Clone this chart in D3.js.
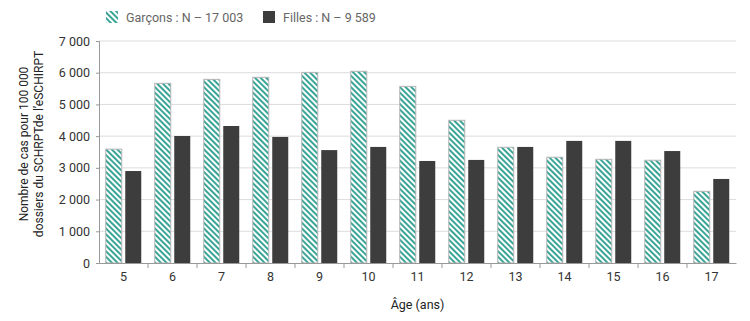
<!DOCTYPE html>
<html>
<head>
<meta charset="utf-8">
<script src="https://cdn.jsdelivr.net/npm/d3@7"></script>
<style>
html, body { margin: 0; padding: 0; background: #fff; overflow: hidden; }
svg { display: block; }
text { font-family: Roboto, "Noto Sans", sans-serif; }
</style>
</head>
<body>
<div id="chart"></div>
<script>
// data
var ages = ["5", "6", "7", "8", "9", "10", "11", "12", "13", "14", "15", "16", "17"];
var garcons = [3590, 5665, 5790, 5855, 6010, 6045, 5570, 4500, 3650, 3335, 3270, 3240, 2260];
var filles  = [2900, 4005, 4320, 3975, 3560, 3660, 3217, 3250, 3660, 3850, 3850, 3530, 2650];
var seriesNames = ["Garçons : N – 17 003", "Filles : N – 9 589"];
var yTicks = [0, 1000, 2000, 3000, 4000, 5000, 6000, 7000];

var width = 750, height = 321;
var margin = { left: 99, top: 41, right: 14, bottom: 58 };
var innerWidth = width - margin.left - margin.right;
var innerHeight = height - margin.top - margin.bottom;

var fmt = function (v) { return d3.format(",")(v).replace(/,/g, " "); };

var x = d3.scaleBand().domain(ages).range([0, innerWidth]).paddingInner(0).paddingOuter(0);
var y = d3.scaleLinear().domain([0, 7000]).range([innerHeight, 0]);

var svg = d3.select("#chart").append("svg")
  .attr("width", width)
  .attr("height", height);

// hatch pattern for Garçons (stripes going down to the right)
var defs = svg.append("defs");
var pat = defs.append("pattern")
  .attr("id", "hatch")
  .attr("patternUnits", "userSpaceOnUse")
  .attr("width", 4).attr("height", 4)
  .attr("patternTransform", "rotate(45)");
pat.append("rect").attr("width", 4).attr("height", 4).attr("fill", "#fff");
pat.append("rect").attr("width", 4).attr("height", 2).attr("fill", "#3aa597");

var g = svg.append("g")
  .attr("transform", "translate(" + margin.left + "," + margin.top + ")");

// grid
g.append("g")
  .attr("class", "yGrid")
  .selectAll("line")
  .data(yTicks.slice(1))
  .enter().append("line")
  .attr("x1", 0).attr("x2", innerWidth)
  .attr("y1", d => y(d)).attr("y2", d => y(d))
  .attr("stroke", "#dcdcdc").attr("stroke-width", 1);

// y axis
var yAxis = g.append("g")
  .call(d3.axisLeft(y).tickValues(yTicks).tickSize(3).tickPadding(6).tickFormat(fmt));
yAxis.select(".domain").attr("stroke", "#999");
yAxis.selectAll(".tick line").attr("stroke", "#999");
yAxis.selectAll("text").attr("fill", "#333").style("font-size", "12.5px");

// bars
var barW = 16, gap = 3.5;
var groups = g.selectAll("g.age")
  .data(ages)
  .enter().append("g")
  .attr("class", "age")
  .attr("transform", d => "translate(" + (x(d) + x.bandwidth() / 2) + ",0)");

groups.append("rect")
  .attr("x", -barW - gap / 2)
  .attr("width", barW)
  .attr("y", (d, i) => y(garcons[i]))
  .attr("height", (d, i) => innerHeight - y(garcons[i]))
  .attr("fill", "url(#hatch)")
  .attr("stroke", "#b5b5b5").attr("stroke-width", 1);

groups.append("rect")
  .attr("x", gap / 2)
  .attr("width", barW)
  .attr("y", (d, i) => y(filles[i]))
  .attr("height", (d, i) => innerHeight - y(filles[i]))
  .attr("fill", "#3d3d3d");

// x axis
var xAxis = g.append("g")
  .attr("transform", "translate(0," + innerHeight + ")")
  .call(d3.axisBottom(x).tickSize(0).tickPadding(9));
xAxis.select(".domain").attr("stroke", "#999");
xAxis.selectAll("text").attr("fill", "#333").style("font-size", "12.5px");
// separators between categories
xAxis.selectAll("line.sep")
  .data(ages.slice(1))
  .enter().append("line")
  .attr("class", "sep")
  .attr("x1", d => x(d)).attr("x2", d => x(d))
  .attr("y1", 0).attr("y2", 5)
  .attr("stroke", "#999");

// axis titles
g.append("text")
  .attr("x", innerWidth / 2)
  .attr("y", innerHeight + 46)
  .attr("text-anchor", "middle")
  .attr("fill", "#222")
  .style("font-size", "12.5px")
  .text("Âge (ans)");

var yTitle = svg.append("text")
  .attr("transform", "translate(32," + (margin.top + innerHeight / 2 - 8) + ") rotate(-90)")
  .attr("text-anchor", "middle")
  .attr("fill", "#222")
  .style("font-size", "12px");
yTitle.append("tspan").attr("x", 0).attr("dy", "-0.35em").text("Nombre de cas pour 100 000");
yTitle.append("tspan").attr("x", 0).attr("dy", "1.3em").text("dossiers du SCHRPTde l’eSCHIRPT");

// legend
var legend = svg.append("g").attr("transform", "translate(106,11)");
var legItems = legend.selectAll("g")
  .data(seriesNames)
  .enter().append("g")
  .attr("transform", (d, i) => "translate(" + (i * 157) + ",0)");
legItems.append("rect")
  .attr("width", 12).attr("height", 12)
  .attr("fill", (d, i) => i === 0 ? "url(#hatch)" : "#3d3d3d");
legItems.append("text")
  .attr("x", 20).attr("y", 10.5)
  .attr("fill", "#666")
  .style("font-size", "12.5px")
  .text(d => d);
</script>
</body>
</html>
